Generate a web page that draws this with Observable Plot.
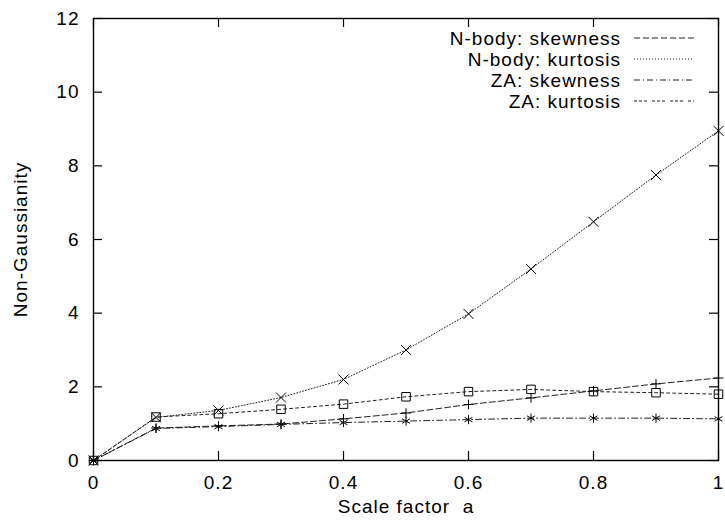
<!DOCTYPE html>
<html>
<head>
<meta charset="utf-8">
<script src="https://cdn.jsdelivr.net/npm/d3@7"></script>
<script src="https://cdn.jsdelivr.net/npm/@observablehq/plot@0.6"></script>
<style>
  html, body { margin: 0; padding: 0; background: #fff; }
  #chart svg { font-family: "Liberation Sans", Arial, sans-serif; }
</style>
</head>
<body>
<div id="chart"></div>
<script>
// ---- data ----
const scaleFactor = [0, 0.1, 0.2, 0.3, 0.4, 0.5, 0.6, 0.7, 0.8, 0.9, 1.0];
const nbodySkewness = [0, 0.88, 0.94, 0.99, 1.13, 1.29, 1.52, 1.70, 1.89, 2.08, 2.24];
const nbodyKurtosis = [0, 1.17, 1.36, 1.71, 2.20, 3.00, 3.98, 5.20, 6.48, 7.75, 8.95];
const zaSkewness    = [0, 0.87, 0.92, 0.98, 1.03, 1.07, 1.11, 1.15, 1.15, 1.15, 1.13];
const zaKurtosis    = [0, 1.18, 1.27, 1.39, 1.53, 1.73, 1.87, 1.93, 1.87, 1.84, 1.80];
const seriesNames = ["N-body: skewness", "N-body: kurtosis", "ZA: skewness", "ZA: kurtosis"];
const xTicks = [0, 0.2, 0.4, 0.6, 0.8, 1];
const xTickLabels = ["0", "0.2", "0.4", "0.6", "0.8", "1"];
const yTicks = [0, 2, 4, 6, 8, 10, 12];
const yTickLabels = ["0", "2", "4", "6", "8", "10", "12"];
const xAxisLabel = "Scale factor  a";
const yAxisLabel = "Non-Gaussianity";

// ---- styles ----
const seriesValues = [nbodySkewness, nbodyKurtosis, zaSkewness, zaKurtosis];
const dashes = ["6,3", "1,2", "6,3,1,3", "3,3"];
const legendDashes = ["6,3", "1,2", "6,3,1,3", "3,2,3,2,3,5"];
const symbols = ["plus", "times", "asterisk", "square2"];
const radii = [3.2, 4.6, 4.3, 5.4];

const W = 725, H = 523;
const mL = 93, mR = 7, mT = 18, mB = 63;
const pw = W - mL - mR, ph = H - mT - mB;
const tickLen = 9;
const fontSize = 19;

const series = seriesNames.map((name, i) => ({
  name, dash: dashes[i], legendDash: legendDashes[i], symbol: symbols[i], r: radii[i],
  data: scaleFactor.map((a, j) => ({a, v: seriesValues[i][j]}))
}));

const marks = [];
// inward ticks on all four sides
marks.push(Plot.ruleX(xTicks, {x: d => d, insetTop: ph - tickLen, stroke: "#000", strokeWidth: 1.2}));
marks.push(Plot.ruleX(xTicks, {x: d => d, insetBottom: ph - tickLen, stroke: "#000", strokeWidth: 1.2}));
marks.push(Plot.ruleY(yTicks, {y: d => d, insetRight: pw - tickLen, stroke: "#000", strokeWidth: 1.2}));
marks.push(Plot.ruleY(yTicks, {y: d => d, insetLeft: pw - tickLen, stroke: "#000", strokeWidth: 1.2}));

for (const s of series) {
  marks.push(Plot.line(s.data, {x: "a", y: "v", stroke: "#222", strokeWidth: 1, strokeDasharray: s.dash}));
}
for (const s of series) {
  marks.push(Plot.dot(s.data, {x: "a", y: "v", symbol: () => s.symbol, r: s.r, stroke: "#000", strokeWidth: 1, fill: "none"}));
}
marks.push(Plot.frame({stroke: "#000", strokeWidth: 1.4}));
marks.push(Plot.axisX({ticks: xTicks, tickSize: 0, tickPadding: 15, tickFormat: (d) => xTickLabels[xTicks.indexOf(d)], label: null, fontSize}));
marks.push(Plot.axisY({ticks: yTicks, tickSize: 0, tickPadding: 14, tickFormat: (d) => yTickLabels[yTicks.indexOf(d)], label: null, fontSize}));
marks.push(Plot.text([xAxisLabel], {text: d => d, frameAnchor: "bottom", dy: 52, fontSize, fill: "#000"}));
marks.push(Plot.text([yAxisLabel], {text: d => d, frameAnchor: "left", dx: -73, rotate: -90, textAnchor: "middle", fontSize, fill: "#000"}));

const svg = Plot.plot({
  width: W, height: H,
  marginLeft: mL, marginRight: mR, marginTop: mT, marginBottom: mB,
  x: {domain: [0, 1]},
  y: {domain: [0, 12]},
  style: {fontFamily: "'Liberation Sans', Arial, sans-serif", fontSize: fontSize + "px", color: "#000", background: "#fff", letterSpacing: "1px"},
  marks
});
document.getElementById("chart").appendChild(svg);

// ---- legend (inside top-right of the frame) ----
const legend = d3.select(svg).append("g")
  .attr("font-family", "'Liberation Sans', Arial, sans-serif")
  .attr("font-size", fontSize);
const textRight = 621, lineX1 = 634, lineX2 = 694, rowTop = 38, rowGap = 21;
series.forEach((s, i) => {
  const y = rowTop + i * rowGap;
  legend.append("text")
    .attr("x", textRight).attr("y", y)
    .attr("text-anchor", "end").attr("dy", "0.35em")
    .attr("fill", "#000")
    .text(s.name);
  legend.append("line")
    .attr("x1", lineX1).attr("x2", lineX2)
    .attr("y1", y).attr("y2", y)
    .attr("stroke", "#222").attr("stroke-width", 1)
    .attr("stroke-dasharray", s.legendDash);
});
</script>
</body>
</html>
